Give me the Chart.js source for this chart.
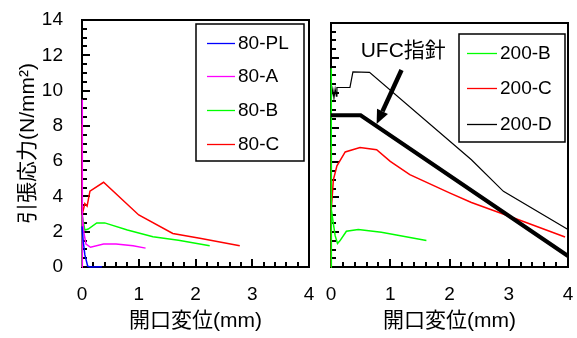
<!DOCTYPE html>
<html>
<head>
<meta charset="utf-8">
<script src="https://cdn.jsdelivr.net/npm/chart.js@4.4.0/dist/chart.umd.min.js"></script>
<style>
  body { margin: 0; background: #fff; }
  canvas { position: absolute; top: 0; }
  #left { left: 0; }
  #right { left: 320px; }
</style>
</head>
<body>
<canvas id="left" width="320" height="338"></canvas>
<canvas id="right" width="257" height="338"></canvas>
<script>
// opening displacement (mm) vs tensile stress (N/mm2)
const x80PL = [0, 0.02, 0.05, 0.1, 0.15, 0.35];
const y80PL = [2.3, 1.5, 0.7, 0.05, 0, 0.02];

const x80A = [0, 0, 0.01, 0.03, 0.07, 0.15, 0.38, 0.6, 0.9, 1.12];
const y80A = [0, 9.5, 3.0, 2.0, 1.3, 1.12, 1.3, 1.3, 1.2, 1.07];

const x80B = [0, 0, 0.05, 0.11, 0.26, 0.4, 0.8, 1.25, 1.7, 2.25];
const y80B = [0, 2.95, 2.1, 2.15, 2.5, 2.5, 2.1, 1.72, 1.52, 1.2];

const x80C = [0, 0, 0.01, 0.05, 0.09, 0.14, 0.38, 1.0, 1.6, 2.1, 2.78];
const y80C = [0, 8.1, 3.0, 3.6, 3.45, 4.3, 4.8, 2.95, 1.9, 1.62, 1.2];

const x200B = [0, 0, 0.01, 0.07, 0.11, 0.15, 0.26, 0.46, 0.85, 1.61];
const y200B = [0, 11.4, 3.3, 1.8, 1.35, 1.5, 2.05, 2.15, 2.0, 1.52];

const x200C = [0, 0, 0.01, 0.04, 0.1, 0.24, 0.49, 0.77, 1.0, 1.33, 2.0, 2.37, 3.02, 3.95];
const y200C = [0, 6.9, 3.3, 5.0, 5.8, 6.6, 6.85, 6.73, 6.06, 5.3, 4.25, 3.7, 2.9, 1.72];

const x200D = [0, 0, 0.03, 0.05, 0.07, 0.09, 0.1, 0.32, 0.37, 0.65, 2.37, 2.91, 4.0];
const y200D = [0, 9.6, 10.2, 9.7, 10.2, 9.8, 10.3, 10.3, 11.2, 11.17, 6.15, 4.34, 2.15];

// UFC guideline (thick line)
const xUFC = [0, 0.5, 4.0];
const yUFC = [8.7, 8.7, 0.63];

const xTicks = [0, 1, 2, 3, 4];
const yTicks = [0, 2, 4, 6, 8, 10, 12, 14];

const ufcLabel = 'UFC指針';
const ufcLabelAt = [1.22, 12.4];
const ufcArrowFrom = [1.19, 11.3];
const ufcArrowTo = [0.77, 8.2];

const latin = "'Liberation Sans', 'Noto Sans CJK JP', sans-serif";

function pts(xs, ys) {
  return xs.map((x, i) => ({ x: x, y: ys[i] }));
}

function series(label, xs, ys, color, width) {
  return {
    label: label,
    data: pts(xs, ys),
    borderColor: color,
    backgroundColor: color,
    borderWidth: width || 1.5,
    pointRadius: 0,
    tension: 0,
    fill: false,
    clip: 4
  };
}

// plot frame + inward tick marks, under the lines
const frame = {
  id: 'frame',
  beforeDatasetsDraw(chart) {
    const ctx = chart.ctx;
    const a = chart.chartArea;
    const w = a.right - a.left, h = a.bottom - a.top;
    ctx.save();
    ctx.fillStyle = '#000';
    for (let i = 0; i <= 20; i++) {
      const px = Math.round(a.left + w * i / 20);
      const len = i % 5 === 0 ? 8 : 5;
      ctx.fillRect(px - 1, a.bottom - len, 2, len);
    }
    for (let i = 0; i <= 28; i++) {
      const py = Math.round(a.bottom - h * i / 28);
      const len = i % 4 === 0 ? 8 : 5;
      ctx.fillRect(a.left, py - 1, len, 2);
    }
    ctx.strokeStyle = '#000';
    ctx.lineWidth = 2;
    ctx.strokeRect(a.left, a.top, w, h);
    ctx.restore();
  }
};

// legend box inside the plot
const boxLegend = {
  id: 'boxLegend',
  afterDatasetsDraw(chart, args, opts) {
    const ctx = chart.ctx;
    ctx.save();
    ctx.fillStyle = '#fff';
    ctx.fillRect(opts.box[0], opts.box[1], opts.box[2] - opts.box[0], opts.box[3] - opts.box[1]);
    ctx.strokeStyle = '#000';
    ctx.lineWidth = 1.5;
    ctx.strokeRect(opts.box[0], opts.box[1], opts.box[2] - opts.box[0], opts.box[3] - opts.box[1]);
    ctx.font = '19px ' + latin;
    ctx.textBaseline = 'middle';
    ctx.textAlign = 'left';
    opts.names.forEach((name, i) => {
      const ds = chart.data.datasets.find(d => d.label === name);
      const ry = opts.rows[i];
      ctx.strokeStyle = ds.borderColor;
      ctx.lineWidth = 1.3;
      ctx.beginPath();
      ctx.moveTo(opts.line[0], ry + 0.5);
      ctx.lineTo(opts.line[1], ry + 0.5);
      ctx.stroke();
      ctx.fillStyle = '#000';
      ctx.fillText(name, opts.textX, ry + 1);
    });
    ctx.restore();
  }
};

// text + arrow for the UFC line
const ufcNote = {
  id: 'ufcNote',
  afterDatasetsDraw(chart, args, opts) {
    if (!opts.show) return;
    const { ctx, scales: { x, y } } = chart;
    ctx.save();
    ctx.fillStyle = '#000';
    ctx.font = '21px ' + latin;
    ctx.textAlign = 'center';
    ctx.textBaseline = 'middle';
    ctx.fillText(ufcLabel, x.getPixelForValue(ufcLabelAt[0]), y.getPixelForValue(ufcLabelAt[1]));
    const x0 = x.getPixelForValue(ufcArrowFrom[0]), y0 = y.getPixelForValue(ufcArrowFrom[1]);
    const x1 = x.getPixelForValue(ufcArrowTo[0]), y1 = y.getPixelForValue(ufcArrowTo[1]);
    const ang = Math.atan2(y1 - y0, x1 - x0);
    const head = 14, half = 6;
    const bx = x1 - head * Math.cos(ang), by = y1 - head * Math.sin(ang);
    ctx.strokeStyle = '#000';
    ctx.lineWidth = 4.5;
    ctx.beginPath();
    ctx.moveTo(x0, y0);
    ctx.lineTo(bx, by);
    ctx.stroke();
    ctx.beginPath();
    ctx.moveTo(x1, y1);
    ctx.lineTo(bx + half * Math.sin(ang), by - half * Math.cos(ang));
    ctx.lineTo(bx - half * Math.sin(ang), by + half * Math.cos(ang));
    ctx.closePath();
    ctx.fill();
    ctx.restore();
  }
};

function makeChart(id, datasets, cfg) {
  return new Chart(document.getElementById(id), {
    type: 'line',
    data: { datasets: datasets },
    plugins: [frame, boxLegend, ufcNote],
    options: {
      responsive: false,
      animation: false,
      layout: { padding: { top: cfg.top, right: cfg.right, left: 0, bottom: 0 } },
      plugins: {
        legend: { display: false },
        tooltip: { enabled: false },
        boxLegend: cfg.legend,
        ufcNote: { show: cfg.note }
      },
      scales: {
        x: {
          type: 'linear',
          min: 0,
          max: 4,
          afterBuildTicks: s => { s.ticks = xTicks.map(v => ({ value: v })); },
          ticks: { color: '#000', font: { family: latin, size: 19 }, padding: 16, maxRotation: 0 },
          grid: { display: false, drawTicks: false },
          border: { display: false },
          title: {
            display: true,
            text: '開口変位(mm)',
            color: '#000',
            font: { family: latin, size: 21 },
            padding: { top: 0, bottom: 4 }
          },
          afterFit: s => { s.height = 71; s.paddingLeft = 0; s.paddingRight = 0; }
        },
        y: {
          type: 'linear',
          min: 0,
          max: 14,
          afterBuildTicks: s => { s.ticks = yTicks.map(v => ({ value: v })); },
          ticks: { display: cfg.yLabels, color: '#000', font: { family: latin, size: 19 }, padding: 19 },
          grid: { display: false, drawTicks: false },
          border: { display: false },
          title: {
            display: cfg.yLabels,
            text: '引張応力(N/mm²)',
            color: '#000',
            font: { family: latin, size: 21 },
            padding: { top: 16, bottom: 0 }
          },
          afterFit: s => { s.width = cfg.yWidth; s.paddingTop = 0; s.paddingBottom = 0; }
        }
      }
    }
  });
}

makeChart('left', [
  series('80-PL', x80PL, y80PL, '#0000ff'),
  series('80-A', x80A, y80A, '#ff00ff'),
  series('80-B', x80B, y80B, '#00ff00'),
  series('80-C', x80C, y80C, '#ff0000')
], {
  top: 20, right: 11, yWidth: 82, yLabels: true, note: false,
  legend: {
    names: ['80-PL', '80-A', '80-B', '80-C'],
    box: [196, 24, 304, 161],
    rows: [43, 76, 110, 144],
    line: [207, 235],
    textX: 238
  }
});

makeChart('right', [
  series('UFC', xUFC, yUFC, '#000000', 4),
  series('200-B', x200B, y200B, '#00ff00'),
  series('200-C', x200C, y200C, '#ff0000'),
  series('200-D', x200D, y200D, '#000000', 1.2)
], {
  top: 23, right: 9, yWidth: 11, yLabels: false, note: true,
  legend: {
    names: ['200-B', '200-C', '200-D'],
    box: [139, 34, 245, 142],
    rows: [53, 88, 124],
    line: [147, 177],
    textX: 180
  }
});
</script>
</body>
</html>
